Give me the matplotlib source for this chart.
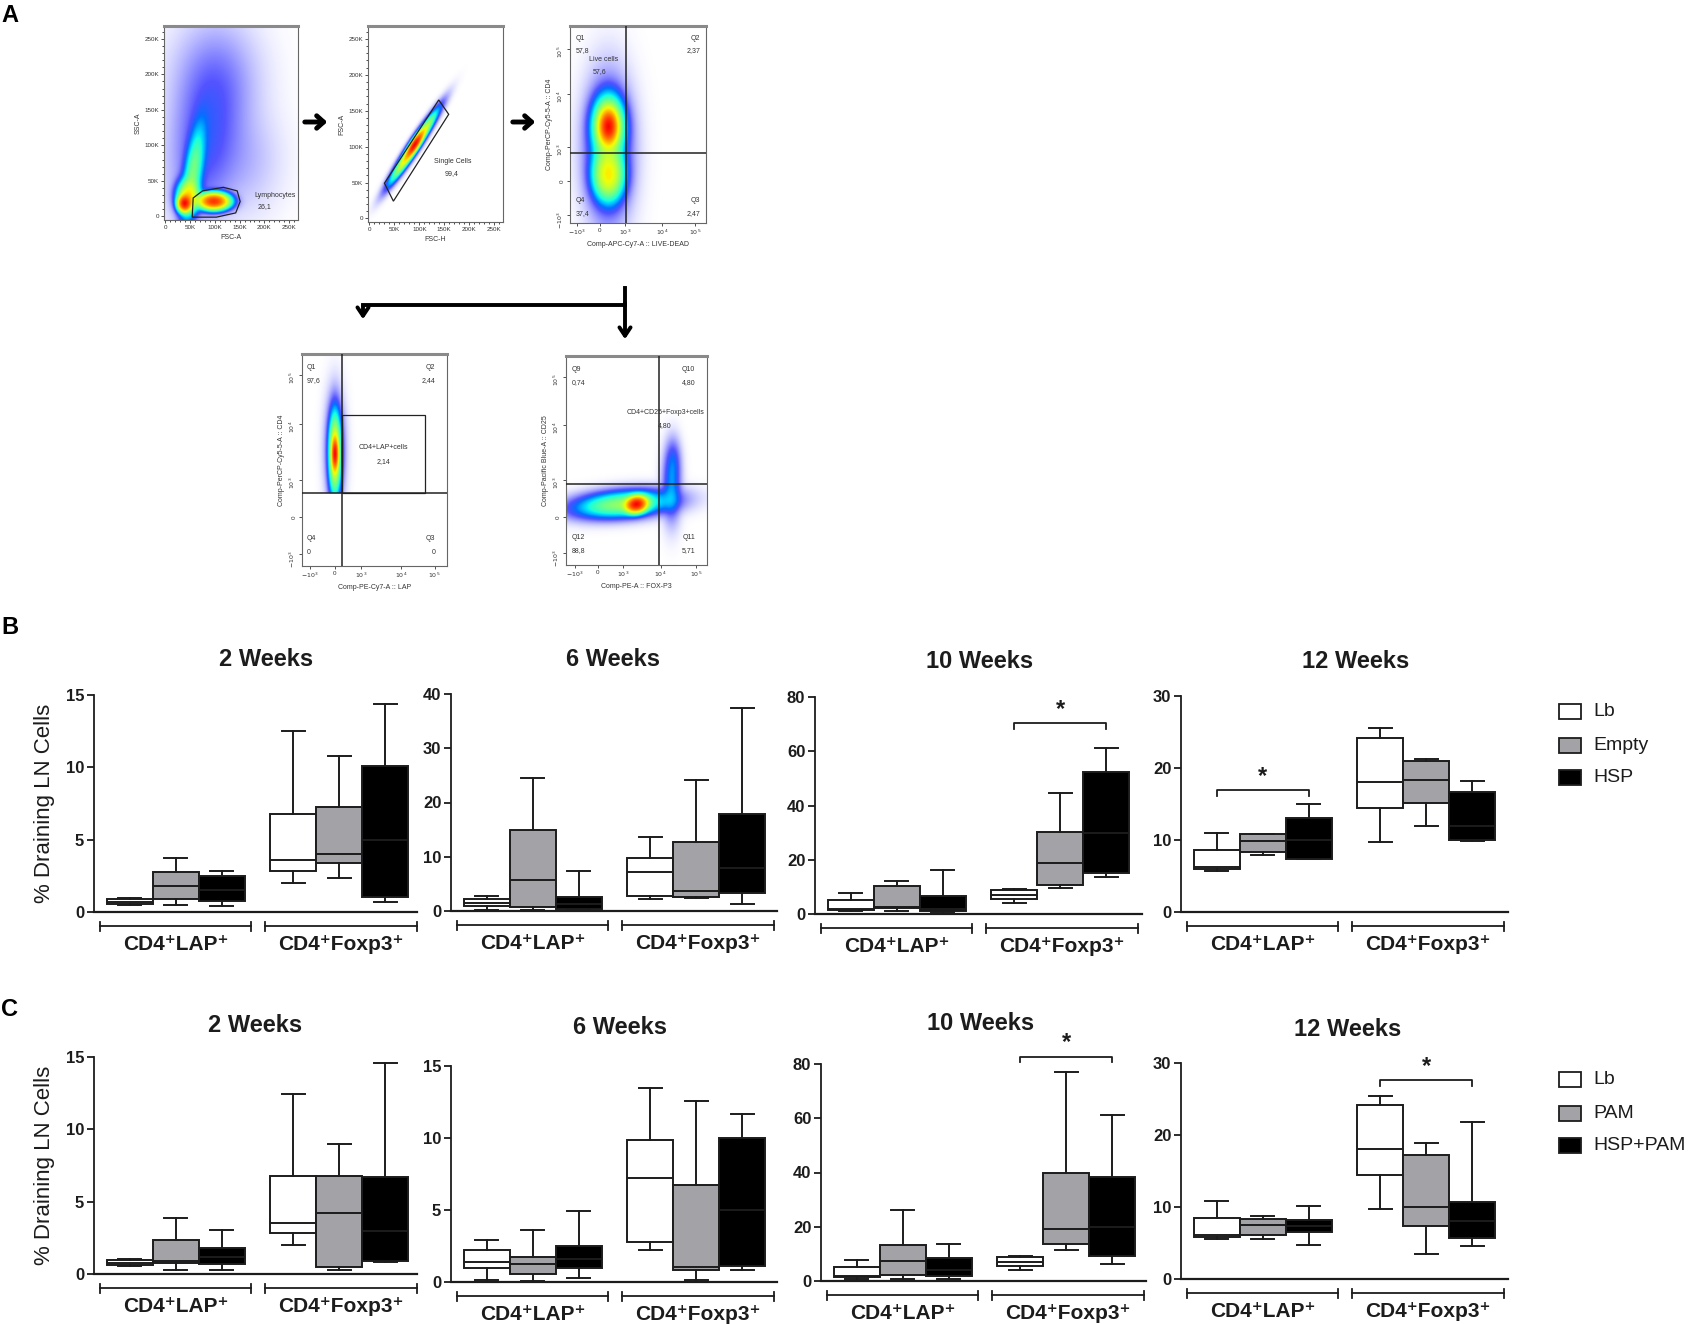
import numpy as np
import matplotlib
matplotlib.use('Agg')
import matplotlib.pyplot as plt
from matplotlib.transforms import blended_transform_factory
from matplotlib.patches import Polygon, Rectangle

W, H = 1692, 1324
SANS = ['Liberation Sans', 'DejaVu Sans']
plt.rcParams['font.family'] = SANS

# ---------------- data: panel B / C box plots ----------------
weeks = ['2 Weeks', '6 Weeks', '10 Weeks', '12 Weeks']
groups = ['CD4⁺LAP⁺', 'CD4⁺Foxp3⁺']
legend_b = ['Lb', 'Empty', 'HSP']
legend_c = ['Lb', 'PAM', 'HSP+PAM']
fills = ['white', '#a3a3a7', 'black']
yticks_all = [[0, 5, 10, 15], [0, 10, 20, 30, 40], [0, 20, 40, 60, 80], [0, 10, 20, 30]]
yticks_c = [[0, 5, 10, 15], [0, 5, 10, 15], [0, 20, 40, 60, 80], [0, 10, 20, 30]]

# each row: whislo, q1, median, q3, whishi  (Lb, 2nd, 3rd for LAP, then Foxp3)
b_2wk = [[0.48, 0.58, 0.67, 0.92, 0.98], [0.48, 0.92, 1.8, 2.75, 3.7], [0.42, 0.76, 1.5, 2.47, 2.86],
         [2.0, 2.82, 3.56, 6.8, 12.5], [2.36, 3.42, 4.04, 7.25, 10.8], [0.72, 1.04, 5.0, 10.1, 14.4]]
b_6wk = [[0.12, 0.99, 1.48, 2.16, 2.84], [0.12, 0.74, 5.67, 14.9, 24.5], [0.12, 0.37, 1.2, 2.59, 7.33],
         [2.16, 2.7, 7.2, 9.8, 13.56], [2.34, 2.59, 3.7, 12.8, 24.2], [1.29, 3.39, 8.0, 17.8, 37.5]]
b_10wk = [[0.98, 1.6, 1.84, 5.16, 7.74], [1.1, 2.3, 2.7, 10.3, 12.2], [0.6, 1.1, 2.0, 6.5, 16.3],
          [3.93, 5.65, 7.0, 8.85, 9.2], [9.6, 10.7, 18.8, 30.3, 44.6], [13.6, 15.1, 30.0, 52.5, 61.1]]
b_12wk = [[5.75, 5.93, 6.26, 8.58, 10.99], [7.88, 8.35, 9.83, 10.8, 10.9], [7.3, 7.42, 10.0, 13.07, 14.97],
          [9.73, 14.46, 18.03, 24.2, 25.5], [11.96, 15.16, 18.4, 21.0, 21.2], [9.87, 9.97, 12.0, 16.64, 18.17]]

c_2wk = [[0.53, 0.62, 0.78, 0.99, 1.04], [0.25, 0.78, 0.9, 2.33, 3.85], [0.3, 0.71, 1.2, 1.8, 3.02],
         [1.98, 2.83, 3.55, 6.8, 12.47], [0.3, 0.48, 4.22, 6.8, 8.99], [0.8, 0.9, 3.0, 6.68, 14.6]]
c_6wk = [[0.14, 0.95, 1.39, 2.19, 2.89], [0.07, 0.58, 1.27, 1.71, 3.63], [0.28, 1.0, 1.6, 2.47, 4.9],
         [2.22, 2.75, 7.2, 9.86, 13.5], [0.16, 0.83, 1.04, 6.72, 12.6], [0.81, 1.13, 5.0, 9.98, 11.7]]
c_10wk = [[0.74, 1.48, 1.85, 5.18, 7.64], [0.74, 2.1, 7.27, 13.2, 26.0], [0.74, 1.73, 4.0, 8.38, 13.56],
          [3.95, 5.67, 7.03, 8.88, 9.1], [11.3, 13.56, 19.2, 39.7, 77.2], [6.3, 9.1, 20.0, 38.3, 61.2]]
c_12wk = [[5.62, 5.85, 6.08, 8.45, 10.9], [5.53, 6.08, 7.52, 8.36, 8.69], [4.74, 6.5, 7.3, 8.17, 10.08],
          [9.66, 14.44, 18.02, 24.15, 25.45], [3.44, 7.34, 9.94, 17.23, 18.86], [4.55, 5.71, 8.0, 10.73, 21.74]]

# significance: week index, box a, box b, bracket height
sig_b = [(2, 3, 5, 70.3), (3, 0, 2, 16.9)]
sig_c = [(2, 3, 5, 82.7), (3, 3, 5, 27.6)]

# ---------------- data: panel A flow plots ----------------
# blobs: cx, cy, sx, sy, weight, angle(deg)
p1_blobs = [(38, 18, 7, 6, 1.0, 0), (97, 21, 16, 6, 0.9, 0), (55, 60, 10, 38, 0.10, -12),
            (45, 28, 12, 12, 0.25, 0), (80, 105, 38, 62, 0.014, -12), (100, 190, 48, 48, 0.007, 0),
            (155, 80, 42, 42, 0.003, 0)]
p1_gate = [(56, 26), (75, 36), (117, 41), (145, 36), (151, 21), (142, 5), (103, -1), (54, -1)]
p2_blobs = [(88, 100, 32, 4.5, 0.3, 46.6), (90, 103, 12, 3.5, 0.6, 46.6)]
p2_gate = [(30, 49), (48, 24), (159, 145), (139, 165)]
p3_blobs = [(0.28, 0.49, 0.035, 0.045, 1.0, 0), (0.28, 0.49, 0.06, 0.08, 0.35, 0),
            (0.28, 0.245, 0.06, 0.07, 0.3, 0), (0.28, 0.37, 0.09, 0.19, 0.04, 0)]
p4_blobs = [(0.225, 0.53, 0.012, 0.04, 1.0, 0), (0.225, 0.53, 0.022, 0.1, 0.3, 0),
            (0.225, 0.55, 0.035, 0.13, 0.03, 0)]
p5_blobs = [(0.50, 0.29, 0.04, 0.02, 1.0, 5), (0.40, 0.29, 0.18, 0.033, 0.12, 3),
            (0.75, 0.38, 0.035, 0.09, 0.025, 0), (0.76, 0.5, 0.03, 0.06, 0.012, 0)]
log_labels = ['$-10^3$', '0', '$10^3$', '$10^4$', '$10^5$']
p3_xt, p3_yt = [0.05, 0.218, 0.408, 0.677, 0.918], [0.043, 0.213, 0.384, 0.656, 0.884]
p4_xt, p4_yt = [0.053, 0.225, 0.409, 0.685, 0.915], [0.057, 0.230, 0.406, 0.670, 0.901]
p5_xt, p5_yt = [0.066, 0.226, 0.407, 0.671, 0.925], [0.059, 0.228, 0.407, 0.670, 0.901]
k_ticks = [0, 50, 100, 150, 200, 250]
k_labels = ['0', '50K', '100K', '150K', '200K', '250K']

fig = plt.figure(figsize=(W / 100, H / 100), dpi=100)


def rect(x0, y0, x1, y1):
    return [x0 / W, 1 - y1 / H, (x1 - x0) / W, (y1 - y0) / H]


def cloud(ax, blobs, xr, yr, ycut=None):
    xs = np.linspace(xr[0], xr[1], 300)
    ys = np.linspace(yr[0], yr[1], 300)
    X, Y = np.meshgrid(xs, ys)
    Z = np.zeros_like(X)
    for cx, cy, sx, sy, w, ang in blobs:
        t = np.deg2rad(ang)
        dx, dy = X - cx, Y - cy
        u = dx * np.cos(t) + dy * np.sin(t)
        v = -dx * np.sin(t) + dy * np.cos(t)
        Z += w * np.exp(-0.5 * ((u / sx) ** 2 + (v / sy) ** 2))
    if ycut is not None:
        Z[Y < ycut] = 0
    Z /= Z.max()
    lev = np.clip((np.log10(Z + 1e-9) + 2.0) / 2.0, 0, 1)
    rgba = plt.cm.jet(0.12 + 0.78 * lev)
    rgba[..., 3] = np.clip(Z / 0.02, 0, 1) ** 0.6
    ax.imshow(rgba, extent=(xr[0], xr[1], yr[0], yr[1]), origin='lower',
              aspect='auto', interpolation='bilinear', zorder=1)


def flow_axes(r, xlab, ylab):
    ax = fig.add_axes(rect(*r))
    for s in ax.spines.values():
        s.set_color('#666666')
        s.set_linewidth(0.8)
    ax.spines['top'].set_linewidth(2.2)
    ax.spines['top'].set_color('#8a8a8a')
    ax.tick_params(labelsize=4.5, length=2, width=0.6, pad=1.5, colors='#333333')
    ax.set_xlabel(xlab, fontsize=5, labelpad=3, color='#333333')
    ax.set_ylabel(ylab, fontsize=5, labelpad=2, color='#333333')
    return ax


def tiny(ax, x, y, s, ha='left'):
    ax.text(x, y, s, fontsize=5, ha=ha, va='center', color='#333333', zorder=5)


# plot 1
ax = flow_axes((164, 26, 298, 220), 'FSC-A', 'SSC-A')
cloud(ax, p1_blobs, (-3, 268), (-5, 268))
ax.set_xlim(-3, 268); ax.set_ylim(-5, 268)
ax.set_xticks(k_ticks, k_labels); ax.set_yticks(k_ticks, k_labels)
ax.set_xticks(np.arange(0, 270, 10), minor=True); ax.set_yticks(np.arange(0, 270, 10), minor=True)
ax.tick_params(which='minor', length=1.2, width=0.5)
ax.add_patch(Polygon(p1_gate, closed=True, fill=False, ec='#222222', lw=0.9, zorder=4))
tiny(ax, 180, 30, 'Lymphocytes'); tiny(ax, 200, 14, '26,1', 'center')

# plot 2
ax = flow_axes((368, 26, 503, 222), 'FSC-H', 'FSC-A')
cloud(ax, p2_blobs, (-3, 268), (-5, 268))
ax.set_xlim(-3, 268); ax.set_ylim(-5, 268)
ax.set_xticks(k_ticks, k_labels); ax.set_yticks(k_ticks, k_labels)
ax.set_xticks(np.arange(0, 270, 10), minor=True); ax.set_yticks(np.arange(0, 270, 10), minor=True)
ax.tick_params(which='minor', length=1.2, width=0.5)
ax.add_patch(Polygon(p2_gate, closed=True, fill=False, ec='#222222', lw=0.9, zorder=4))
tiny(ax, 168, 79, 'Single Cells', 'center'); tiny(ax, 164, 63, '99,4', 'center')


def log_axes(r, xlab, ylab, xt, yt, blobs, ycut=None):
    ax = flow_axes(r, xlab, ylab)
    cloud(ax, blobs, (0, 1), (0, 1), ycut)
    ax.set_xlim(0, 1); ax.set_ylim(0, 1)
    ax.set_xticks(xt, log_labels); ax.set_yticks(yt, log_labels)
    ax.tick_params(axis='y', labelrotation=90)
    return ax


# plot 3
ax = log_axes((570, 26, 706, 223), 'Comp-APC-Cy7-A :: LIVE-DEAD', 'Comp-PerCP-Cy5-5-A :: CD4',
              p3_xt, p3_yt, p3_blobs)
ax.axvline(0.415, color='#222222', lw=1.1, zorder=4); ax.axhline(0.357, color='#222222', lw=1.1, zorder=4)
tiny(ax, 0.04, 0.935, 'Q1'); tiny(ax, 0.04, 0.875, '57,8')
tiny(ax, 0.14, 0.83, 'Live cells'); tiny(ax, 0.17, 0.77, '57,6')
tiny(ax, 0.96, 0.935, 'Q2', 'right'); tiny(ax, 0.96, 0.875, '2,37', 'right')
tiny(ax, 0.04, 0.115, 'Q4'); tiny(ax, 0.04, 0.05, '37,4')
tiny(ax, 0.96, 0.115, 'Q3', 'right'); tiny(ax, 0.96, 0.05, '2,47', 'right')

# plot 4
ax = log_axes((302, 354, 447, 566), 'Comp-PE-Cy7-A :: LAP', 'Comp-PerCP-Cy5-5-A :: CD4',
              p4_xt, p4_yt, p4_blobs, ycut=0.343)
ax.axvline(0.278, color='#222222', lw=1.1, zorder=4); ax.axhline(0.343, color='#222222', lw=1.1, zorder=4)
ax.add_patch(Rectangle((0.278, 0.343), 0.568, 0.369, fill=False, ec='#222222', lw=0.9, zorder=4))
tiny(ax, 0.035, 0.935, 'Q1'); tiny(ax, 0.035, 0.875, '97,6')
tiny(ax, 0.92, 0.935, 'Q2', 'right'); tiny(ax, 0.92, 0.875, '2,44', 'right')
tiny(ax, 0.56, 0.56, 'CD4+LAP+cells', 'center'); tiny(ax, 0.56, 0.495, '2,14', 'center')
tiny(ax, 0.035, 0.13, 'Q4'); tiny(ax, 0.035, 0.066, '0')
tiny(ax, 0.92, 0.13, 'Q3', 'right'); tiny(ax, 0.92, 0.066, '0', 'right')

# plot 5
ax = log_axes((566, 356, 707, 565), 'Comp-PE-A :: FOX-P3', 'Comp-Pacific Blue-A :: CD25',
              p5_xt, p5_yt, p5_blobs)
ax.axvline(0.661, color='#222222', lw=1.1, zorder=4); ax.axhline(0.388, color='#222222', lw=1.1, zorder=4)
tiny(ax, 0.04, 0.935, 'Q9'); tiny(ax, 0.04, 0.875, '0,74')
tiny(ax, 0.915, 0.935, 'Q10', 'right'); tiny(ax, 0.915, 0.875, '4,80', 'right')
tiny(ax, 0.706, 0.728, 'CD4+CD25+Foxp3+cells', 'center'); tiny(ax, 0.70, 0.665, '4,80', 'center')
tiny(ax, 0.04, 0.13, 'Q12'); tiny(ax, 0.04, 0.07, '88,8')
tiny(ax, 0.915, 0.13, 'Q11', 'right'); tiny(ax, 0.915, 0.07, '5,71', 'right')

# ---------------- panels B and C ----------------
BOXW = 46.0
centers = [1.78, 5.33]
EC = '#1c1c1c'


def box_panel(r, data, yt, title, title_xy, sigs, week_idx):
    x0, y0, x1, y1 = r
    ax = fig.add_axes(rect(*r))
    pos = [centers[k // 3] + (k % 3 - 1) for k in range(6)]
    stats = [dict(whislo=a, q1=b, med=c, q3=d, whishi=e, fliers=[]) for a, b, c, d, e in data]
    res = ax.bxp(stats, positions=pos, widths=1.0, capwidths=0.5, patch_artist=True,
                 showfliers=False, boxprops=dict(linewidth=1.4, edgecolor=EC),
                 whiskerprops=dict(linewidth=1.4, color=EC), capprops=dict(linewidth=1.4, color=EC),
                 medianprops=dict(linewidth=1.4, color=EC))
    for patch, fc in zip(res['boxes'], fills * 2):
        patch.set_facecolor(fc)
    ax.set_xlim(0, (x1 - x0) / BOXW)
    ax.set_ylim(0, yt[-1])
    ax.set_yticks(yt)
    ax.set_xticks([])
    for s in ['top', 'right']:
        ax.spines[s].set_visible(False)
    ax.spines['left'].set_linewidth(1.3)
    ax.spines['bottom'].set_linewidth(1.6)
    ax.spines['left'].set_color(EC); ax.spines['bottom'].set_color(EC)
    ax.tick_params(axis='y', length=5, width=1.3, pad=2, labelsize=12, colors=EC)
    for lab in ax.get_yticklabels():
        lab.set_fontweight('bold')
    ax.patch.set_alpha(0)
    tr = blended_transform_factory(ax.transData, ax.transAxes)
    for g, (a, b) in enumerate([(0.12, 3.42), (3.72, 7.02)]):
        yb = -0.066
        ax.plot([a, b], [yb, yb], color=EC, lw=1.3, transform=tr, clip_on=False)
        for xe in (a, b):
            ax.plot([xe, xe], [yb - 0.022, yb + 0.022], color=EC, lw=1.3, transform=tr, clip_on=False)
        ax.text((a + b) / 2, -0.15, groups[g], transform=tr, ha='center', va='center',
                fontsize=15, fontweight='bold', color=EC)
    for wk, ia, ib, hy in sigs:
        if wk != week_idx:
            continue
        drop = 0.025 * yt[-1]
        ax.plot([pos[ia], pos[ia], pos[ib], pos[ib]], [hy - drop, hy, hy, hy - drop],
                color=EC, lw=1.3, clip_on=False)
        ax.text((pos[ia] + pos[ib]) / 2, hy + 0.01 * yt[-1], '*', ha='center', va='bottom',
                fontsize=17, fontweight='bold', color=EC)
    fig.text(title_xy[0] / W, 1 - title_xy[1] / H, title, ha='center', va='center',
             fontsize=17, fontweight='bold', color=EC)
    return ax


rects_b = [(94, 695, 417, 912), (451, 694, 777, 911), (815, 697, 1142, 914), (1181, 696, 1508, 912)]
rects_c = [(94, 1057, 417, 1274), (451, 1066, 777, 1282), (821, 1064, 1146, 1281), (1181, 1063, 1508, 1279)]
titles_b = [(266, 660), (613, 660), (980, 662), (1356, 662)]
titles_c = [(255, 1025), (620, 1028), (981, 1024), (1348, 1029)]
data_b = [b_2wk, b_6wk, b_10wk, b_12wk]
data_c = [c_2wk, c_6wk, c_10wk, c_12wk]

for i in range(4):
    a = box_panel(rects_b[i], data_b[i], yticks_all[i], weeks[i], titles_b[i], sig_b, i)
    if i == 0:
        a.set_ylabel('% Draining LN Cells', fontsize=16, labelpad=8, color=EC)
for i in range(4):
    a = box_panel(rects_c[i], data_c[i], yticks_c[i], weeks[i], titles_c[i], sig_c, i)
    if i == 0:
        a.set_ylabel('% Draining LN Cells', fontsize=16, labelpad=8, color=EC)

# ---------------- overlay: letters, arrows, legends ----------------
ov = fig.add_axes([0, 0, 1, 1])
ov.set_xlim(0, W); ov.set_ylim(H, 0); ov.axis('off')
for letter, (lx, ly) in zip(['A', 'B', 'C'], [(10, 16), (10, 628), (10, 1009)]):
    ov.text(lx, ly, letter, fontsize=17, fontweight='bold', ha='center', va='center')

arrow_kw = dict(arrowstyle='->,head_length=0.5,head_width=0.45', lw=3.5, color='black')
ov.annotate('', xy=(330, 122), xytext=(302, 122), arrowprops=arrow_kw)
ov.annotate('', xy=(538, 122), xytext=(510, 122), arrowprops=arrow_kw)
ov.plot([363, 625], [305, 305], color='black', lw=2.8)
ov.plot([625, 625], [288, 305], color='black', lw=2.8)
arrow_kw2 = dict(arrowstyle='->,head_length=0.6,head_width=0.4', lw=2.8, color='black')
ov.annotate('', xy=(625, 342), xytext=(625, 300), arrowprops=arrow_kw2)
ov.annotate('', xy=(363, 322), xytext=(363, 303), arrowprops=arrow_kw2)

for labels, ys in [(legend_b, [711, 745, 777]), (legend_c, [1079, 1113, 1145])]:
    for lab, fc, yy in zip(labels, fills, ys):
        ov.add_patch(Rectangle((1559, yy - 7.5), 22, 15, fc=fc, ec=EC, lw=1.3))
        ov.text(1593, yy, lab, fontsize=14, va='center', ha='left', color=EC)

fig.savefig('out.png', dpi=100)
